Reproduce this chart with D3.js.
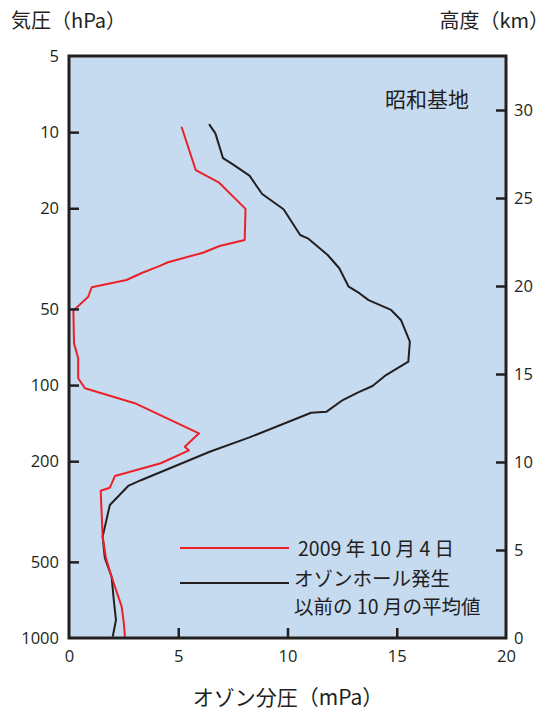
<!DOCTYPE html>
<html>
<head>
<meta charset="utf-8">
<script src="https://cdn.jsdelivr.net/npm/d3@7"></script>
<style>
  html, body { margin: 0; padding: 0; background: #ffffff; }
  svg text { fill: #231f20; }
</style>
</head>
<body>
<script>
// Ozone profiles over Syowa Station: partial pressure (mPa) against altitude (km)
const altitudeKm2009 = [29.05, 26.59, 25.89, 24.38, 22.61, 22.27, 21.89, 21.35, 21.14, 20.74, 20.34, 19.93, 19.39, 18.60, 16.74, 15.89, 14.76, 14.19, 13.34, 11.63, 10.87, 10.66, 9.93, 9.20, 8.54, 8.37, 5.76, 4.55, 3.48, 1.78, 0.85, 0.07];
const ozone2009 = [5.15, 5.80, 6.85, 8.08, 8.04, 6.89, 6.13, 4.53, 4.16, 3.33, 2.63, 1.04, 0.88, 0.20, 0.23, 0.42, 0.42, 0.73, 3.01, 5.95, 5.30, 5.49, 4.20, 2.10, 1.87, 1.45, 1.54, 1.69, 1.95, 2.41, 2.51, 2.56];

const altitudeKmMean = [29.20, 28.67, 27.26, 26.97, 26.27, 25.23, 24.36, 22.90, 22.71, 21.76, 21.01, 19.96, 19.59, 19.20, 18.64, 18.07, 16.84, 15.70, 14.94, 14.32, 13.94, 13.52, 12.86, 12.80, 11.40, 10.58, 8.98, 8.64, 7.56, 5.76, 4.55, 3.48, 2.16, 1.02, 0.07];
const ozoneMean = [6.41, 6.70, 7.05, 7.43, 8.26, 8.84, 9.82, 10.58, 10.93, 11.84, 12.37, 12.80, 13.29, 13.71, 14.74, 15.19, 15.60, 15.53, 14.51, 13.89, 13.21, 12.53, 11.79, 11.08, 8.26, 6.44, 3.32, 2.71, 1.87, 1.54, 1.64, 1.95, 2.05, 2.15, 2.00];

const pressureTicks = [5, 10, 20, 50, 100, 200, 500, 1000];
const altitudeTicks = [0, 5, 10, 15, 20, 25, 30];
const ozoneTicks = [0, 5, 10, 15, 20];

const legendLabels = [["2009 年 10 月 4 日"], ["オゾンホール発生", "以前の 10 月の平均値"]];

const W = 553, H = 714;
const plotLeft = 69, plotRight = 506, plotTop = 56, plotBottom = 638;
const ink = "#231f20", red = "#ec2127", bg = "#c6dbf0";
const latin = "'Open Sans', 'Noto Sans', sans-serif";
const cjk = "'Noto Sans CJK JP', 'Noto Sans', sans-serif";

const svg = d3.select("body").append("svg").attr("width", W).attr("height", H);

const x = d3.scaleLinear().domain([0, 20]).range([plotLeft, plotRight]);
const yP = d3.scaleLog().domain([5, 1000]).range([plotTop, plotBottom]);
// altitude axis: 0 km at the 1000 hPa line, 17.6 px per km
const kmTop = (plotBottom - plotTop) / 17.6;
const yKm = d3.scaleLinear().domain([0, kmTop]).range([plotBottom, plotTop]);

svg.append("rect").attr("x", plotLeft).attr("y", plotTop)
  .attr("width", plotRight - plotLeft).attr("height", plotBottom - plotTop).attr("fill", bg);

// profiles
const line = d3.line().x(d => x(d[0])).y(d => yKm(d[1]));
const mean = ozoneMean.map((v, i) => [v, altitudeKmMean[i]]);
const oct2009 = ozone2009.map((v, i) => [v, altitudeKm2009[i]]);

svg.append("path").datum(mean).attr("d", line)
  .attr("fill", "none").attr("stroke", ink).attr("stroke-width", 2).attr("stroke-linejoin", "round");
svg.append("path").datum(oct2009).attr("d", line)
  .attr("fill", "none").attr("stroke", red).attr("stroke-width", 2).attr("stroke-linejoin", "round");

// axes with inward ticks
const tickLen = 10;
const styleAxis = g => {
  g.select(".domain").remove();
  g.selectAll(".tick line").attr("stroke", ink).attr("stroke-width", 2.5);
  g.selectAll(".tick text").attr("font-family", latin).attr("font-size", 16.5).attr("fill", ink);
};

svg.append("g").attr("transform", `translate(${plotLeft},0)`)
  .call(d3.axisLeft(yP).tickValues(pressureTicks).tickFormat(d3.format("d"))
    .tickSizeInner(-tickLen).tickSizeOuter(0).tickPadding(10))
  .call(styleAxis)
  .call(g => g.selectAll(".tick").filter(d => d === 5 || d === 1000).select("line").remove());

svg.append("g").attr("transform", `translate(${plotRight},0)`)
  .call(d3.axisRight(yKm).tickValues(altitudeTicks)
    .tickSizeInner(-tickLen).tickSizeOuter(0).tickPadding(8))
  .call(styleAxis)
  .call(g => g.selectAll(".tick").filter(d => d === 0).select("line").remove());

svg.append("g").attr("transform", `translate(0,${plotBottom})`)
  .call(d3.axisBottom(x).tickValues(ozoneTicks)
    .tickSizeInner(-tickLen).tickSizeOuter(0).tickPadding(12))
  .call(styleAxis)
  .call(g => g.selectAll(".tick").filter(d => d === 0 || d === 20).select("line").remove());

// frame
svg.append("rect").attr("x", plotLeft).attr("y", plotTop)
  .attr("width", plotRight - plotLeft).attr("height", plotBottom - plotTop)
  .attr("fill", "none").attr("stroke", ink).attr("stroke-width", 3);

// titles
svg.append("text").attr("x", 11).attr("y", 28).attr("font-family", cjk).attr("font-size", 20)
  .text("気圧（hPa）");
svg.append("text").attr("x", 549).attr("y", 28).attr("text-anchor", "end")
  .attr("font-family", cjk).attr("font-size", 20).text("高度（km）");
svg.append("text").attr("x", 288).attr("y", 705).attr("text-anchor", "middle")
  .attr("font-family", cjk).attr("font-size", 21).text("オゾン分圧（mPa）");
svg.append("text").attr("x", 469).attr("y", 107).attr("text-anchor", "end")
  .attr("font-family", cjk).attr("font-size", 21).text("昭和基地");

// legend: one text per line so each row keeps its own box
const legendRows = [{ color: red, y: 548, tx: 298, dy: 8 }, { color: ink, y: 583, tx: 294, dy: 3 }];
legendRows.forEach((r, i) => {
  svg.append("line").attr("x1", 180).attr("x2", 289).attr("y1", r.y).attr("y2", r.y)
    .attr("stroke", r.color).attr("stroke-width", 2);
  legendLabels[i].forEach((s, j) => {
    svg.append("text").attr("font-family", cjk).attr("font-size", 19.5)
      .attr("x", r.tx).attr("y", r.y + r.dy + j * 27.5).text(s);
  });
});
</script>
</body>
</html>
